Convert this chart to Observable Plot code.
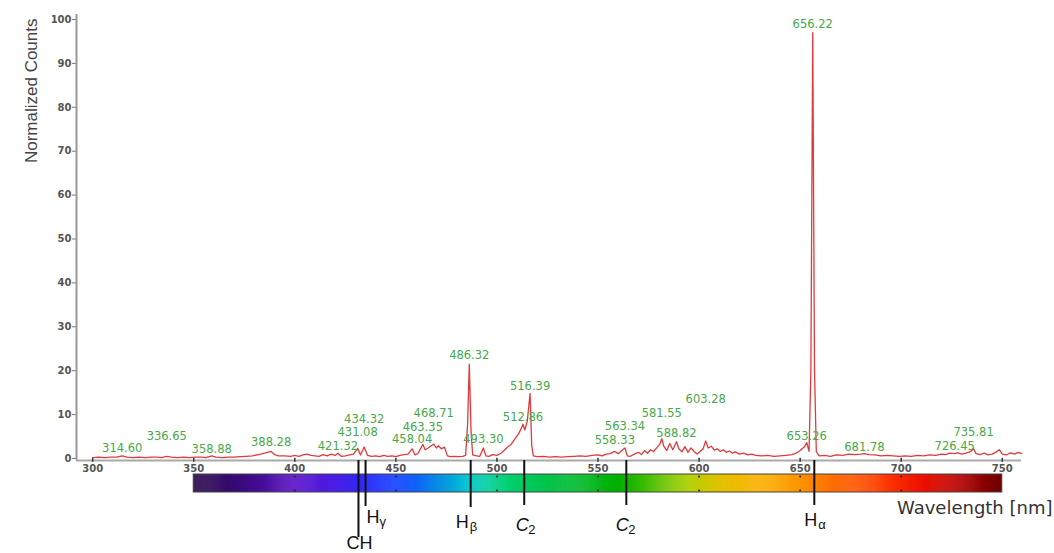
<!DOCTYPE html>
<html><head><meta charset="utf-8">
<script src="https://cdn.jsdelivr.net/npm/d3@7"></script>
<script src="https://cdn.jsdelivr.net/npm/@observablehq/plot@0.6"></script>
<style>
html,body{margin:0;padding:0;background:#fff;}
#chart{position:relative;width:1054px;height:553px;overflow:hidden;background:#fff;}
#chart svg{position:absolute;left:0;top:0;}
</style></head><body><div id="chart"></div>
<script>
// ---- data ----
const wavelength = [300,303,306,309,312,314.6,317,320,323,326,329,332,334,336.65,339,342,345,348,351,354,356,358.88,361,364,367,370,373,376,379,382,385,388.28,390,392,395,398,400,402,404,406,408,410,412,414,416,418,420,421.32,423,425,427,429,431.08,432.5,434.32,436,438,440,442,444,446,448,450,452,454,456,458.04,459.5,461,463.35,464.5,466,467.5,468.71,470,471,472.5,474,475.5,477,479,481,483,484.5,485.5,486.32,487.2,488,490,491.5,493.3,494.5,496,498,500,502,503.5,505,507,509,510.5,512,512.86,513.8,515,516.39,517.2,518,520,523,526,529,532,535,538,541,544,547,550,552,554,556,558.33,560,561.5,563.34,564.5,566,568,570,571.5,573,574.5,576,577.5,579,580.5,581.55,582.5,584,585.5,587,588.82,590,591.5,593,594.5,596,597.5,599,600.5,602,603.28,604.5,606,607.5,609,610.5,612,613.5,615,616.5,618,620,622,624,626,628,631,634,637,640,643,646,648,650,652,653.26,654.4,655.3,656.22,657.1,658,659.5,662,665,668,671,674,677,680,681.78,684,687,690,693,696,699,702,705,708,711,714,717,720,722,724,726.45,728,730,732,734,735.81,737,739,741,743,745,747,748.5,750,752,754,756,758,759.5];
const counts = [0.2,0.3,0.2,0.3,0.3,0.6,0.3,0.2,0.3,0.2,0.3,0.3,0.2,0.5,0.3,0.2,0.3,0.2,0.3,0.3,0.2,0.6,0.3,0.2,0.3,0.3,0.4,0.5,0.6,0.9,1.2,1.6,0.9,0.6,0.6,0.5,0.7,0.5,0.8,1.0,0.7,0.6,0.5,0.9,0.6,1.0,0.7,1.2,0.5,0.6,0.8,1.0,2.3,0.8,2.6,0.7,0.5,0.6,0.4,0.7,0.5,0.6,0.4,0.7,0.9,1.0,2.2,0.8,1.2,3.2,2.0,2.4,2.9,3.3,2.4,2.9,2.2,2.6,0.6,0.4,0.5,0.4,0.5,0.7,8,21.5,6,0.8,0.6,0.5,2.4,0.6,0.5,0.9,0.7,1.2,1.8,2.5,3.2,4.5,5.5,6.8,7.8,6.5,8.5,14.8,3,0.6,0.4,0.5,0.3,0.4,0.3,0.4,0.5,0.6,0.5,0.7,0.8,0.6,1.0,1.1,1.6,1.1,1.7,2.4,0.6,0.5,1.0,1.4,0.9,1.8,1.2,2.0,1.6,2.4,3.2,4.5,2.8,1.8,3.4,2.0,3.8,2.2,1.5,2.7,1.4,2.4,1.6,1.0,1.6,2.2,4.0,2.4,2.8,1.9,2.2,1.6,2.0,1.4,1.7,1.2,1.5,1.0,1.2,0.8,1.0,0.7,0.6,0.7,0.5,0.6,0.7,0.9,1.2,1.8,2.6,3.6,1.6,20,97,20,1.5,0.6,0.7,0.5,0.8,0.7,1.0,0.9,1.0,1.1,0.9,0.8,0.6,0.7,0.6,0.5,0.6,0.5,0.7,0.6,0.8,0.7,1.0,0.9,1.2,1.1,1.3,1.0,1.2,1.5,2.2,1.1,0.9,1.2,0.8,1.0,1.5,2.0,1.0,0.8,1.3,1.0,1.4,1.1];
const peakLabels = ["314.60","336.65","358.88","388.28","421.32","431.08","434.32","458.04","463.35","468.71","486.32","493.30","512.86","516.39","558.33","563.34","581.55","588.82","603.28","653.26","656.22","681.78","726.45","735.81"];
const peakLabelLevel = [2.3,5.0,2.0,3.6,2.7,5.9,8.9,4.3,7.1,10.3,23.5,4.3,9.3,16.4,4.1,7.3,10.3,5.7,13.4,5.0,98.9,2.5,2.7,5.9];
const yTicks = [0,10,20,30,40,50,60,70,80,90,100];
const xTicks = [300,350,400,450,500,550,600,650,700,750];
const lineNm = [431.5,435,487,513.5,564,657];
const lineBase = ["CH","H","H","C","C","H"];
const lineSub = ["","γ","β","2","2","α"];
const barStopNm = [350,375,400,420,440,455,470,485,495,505,530,560,578,595,612,630,650,670,690,710,730,750];
const barStopColor = ["#2b0a48","#3c0a80","#5b12c9","#4b1fe6","#1e2cff","#1050ff","#0a8ae8","#00c0d0","#00d0a0","#00d070","#00c040","#00b000","#50c000","#b0d000","#e6c000","#fbb000","#ff9400","#ff6400","#ff3c00","#f01000","#b00000","#6a0000"];
const barRange = [350,750];
const yTitle = "Normalized Counts";
const xTitle = "Wavelength [nm]";

// ---- chart ----
const xDomain = [292, 759.5];
const yDomain = [-0.46, 101.14];
const spectrum = wavelength.map((w, i) => ({w, c: counts[i]}));
const peaks = peakLabels.map((t, i) => ({t, w: +t, lv: peakLabelLevel[i]}));
const tickFont = {fontFamily: "DejaVu Sans", fontSize: 10, fontWeight: "bold"};

const plot1 = Plot.plot({
  width: 1054, height: 553,
  marginLeft: 76, marginRight: 33, marginTop: 14, marginBottom: 93,
  style: {background: "transparent", overflow: "visible"},
  x: {domain: xDomain},
  y: {domain: yDomain},
  marks: [
    Plot.axisY({ticks: yTicks, tickSize: 4, tickPadding: 1, color: "#555", stroke: "#777", label: null, ...tickFont}),
    Plot.axisX({ticks: xTicks, tickSize: 0, tickPadding: 4, color: "#555", label: null, ...tickFont}),
    Plot.ruleX([xDomain[0]], {y1: yDomain[0], y2: yDomain[1], stroke: "#999", strokeWidth: 2}),
    Plot.ruleY([yDomain[0]], {x1: xDomain[0], x2: xDomain[1], stroke: "#aaa", strokeWidth: 2}),
    Plot.ruleX(xTicks, {x: d => d, y1: yDomain[0] - 0.4, y2: yDomain[0] + 0.5, stroke: "#333", strokeWidth: 1.5}),
    Plot.line(spectrum, {x: "w", y: "c", stroke: "#e03a3c", strokeWidth: 1.3}),
    Plot.text(peaks, {x: "w", y: "lv", text: "t", fill: "#48a848", fontSize: 11.5, fontFamily: "DejaVu Sans"}),
    Plot.text([yTitle], {frameAnchor: "top-left", rotate: -90, textAnchor: "end", dx: -52, dy: 4, fontSize: 17, fontFamily: "Liberation Sans", fill: "#444"})
  ]
});

// annotation band below the axis: y unit = pixels below the x-axis line
const annots = lineNm.map((nm, i) => ({nm, base: lineBase[i], sub: lineSub[i]}));
const layout = [
  {len: 77, row: 83, dx: 1, anchor: "middle", subDx: 0, italic: false},
  {len: 46, row: 57, dx: 1, anchor: "start", subDx: 14, italic: false},
  {len: 47, row: 62, dx: -2, anchor: "end", subDx: -1, italic: false},
  {len: 45, row: 65, dx: -2, anchor: "middle", subDx: 4, italic: true},
  {len: 45, row: 65, dx: -4, anchor: "middle", subDx: 2, italic: true},
  {len: 45, row: 60, dx: 3, anchor: "end", subDx: 4, italic: false}
];
const annotFont = {fontFamily: "Liberation Sans", fill: "#111"};
const labelMarks = annots.flatMap((a, i) => {
  const L = layout[i];
  const m = [Plot.text([a], {x: "nm", y: () => L.row, text: "base", dx: L.dx, textAnchor: L.anchor, fontSize: 18, fontStyle: L.italic ? "italic" : "normal", ...annotFont})];
  if (a.sub) m.push(Plot.text([a], {x: "nm", y: () => L.row + 4, text: "sub", dx: L.subDx, textAnchor: "start", fontSize: 13, ...annotFont}));
  return m;
});
const barSlices = d3.range(barRange[0], barRange[1], 0.5);

const plot2 = Plot.plot({
  width: 1054, height: 553,
  marginLeft: 76, marginRight: 33, marginTop: 460, marginBottom: 0,
  style: {background: "transparent", overflow: "visible"},
  x: {domain: xDomain, axis: null},
  y: {domain: [0, 93], reverse: true, axis: null},
  color: {type: "linear", domain: barStopNm, range: barStopColor, interpolate: "rgb"},
  marks: [
    Plot.rect(barSlices, {x1: d => d, x2: d => Math.min(d + 0.7, barRange[1]), y1: () => 14, y2: () => 32, fill: d => d}),
    Plot.rect([barRange], {x1: d => d[0], x2: d => d[1], y1: () => 14, y2: () => 32, fill: "none", stroke: "#444", strokeWidth: 1}),
    Plot.dot(xTicks.filter(t => t > barRange[0] && t < barRange[1]), {x: d => d, y: () => 16, r: 1, fill: "#222"}),
    Plot.dot(xTicks.filter(t => t > barRange[0] && t < barRange[1]), {x: d => d, y: () => 30, r: 1, fill: "#222"}),
    Plot.ruleX(annots, {x: "nm", y1: () => 0, y2: (d, i) => layout[i].len, stroke: "#111", strokeWidth: 2}),
    ...labelMarks,
    Plot.text([xTitle], {frameAnchor: "right", y: () => 48, textAnchor: "end", dx: 31, fontSize: 18, fontFamily: "DejaVu Sans", fill: "#333"})
  ]
});

const el = document.getElementById("chart");
el.append(plot1, plot2);
</script>
</body></html>
